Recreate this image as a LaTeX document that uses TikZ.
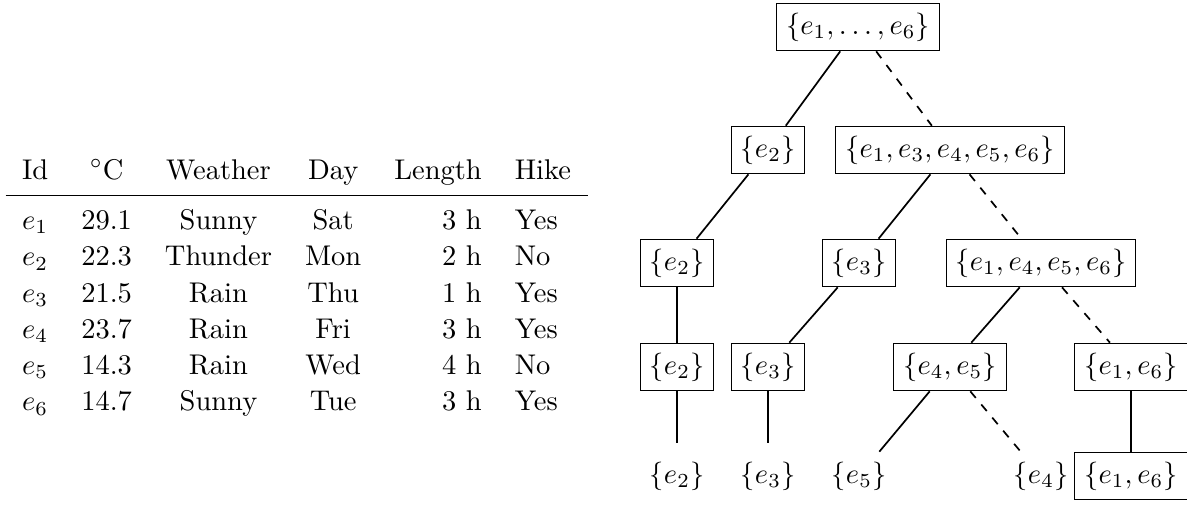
\documentclass[tikz,border=0pt]{standalone}
\usepackage{booktabs}
\begin{document}
\begin{tikzpicture}[x=0.3509pt,y=-0.3509pt,
  tbox/.style={draw, line width=0.4pt, inner sep=0.3333em},
  leaf/.style={tbox, draw=none},
  yesedge/.style={semithick},
  noedge/.style={semithick, dashed},
  shortend/.style={shorten >=3pt}]
\useasboundingbox (0,0) rectangle (1187,504);
% table
\node[anchor=base west, inner sep=0] (tab) at (5,179) {\renewcommand{\arraystretch}{1.06}\setlength{\tabcolsep}{5.8pt}%
\begin{tabular}[t]{lcccrl}
Id & $^\circ$C & Weather & Day & Length & Hike\\
\midrule
$e_1$ & 29.1 & Sunny & Sat & 3 h & Yes\\
$e_2$ & 22.3 & Thunder & Mon & 2 h & No\\
$e_3$ & 21.5 & Rain & Thu & 1 h & Yes\\
$e_4$ & 23.7 & Rain & Fri & 3 h & Yes\\
$e_5$ & 14.3 & Rain & Wed & 4 h & No\\
$e_6$ & 14.7 & Sunny & Tue & 3 h & Yes
\end{tabular}};
% tree
\node[tbox] (r) at (858,27) {$\{e_1,\ldots,e_6\}$};
\node[tbox] (a) at (768,150) {$\{e_2\}$};
\node[tbox] (b) at (950,150) {$\{e_1,e_3,e_4,e_5,e_6\}$};
\node[tbox] (c) at (677,263) {$\{e_2\}$};
\node[tbox] (d) at (859,263) {$\{e_3\}$};
\node[tbox] (f) at (1041,263) {$\{e_1,e_4,e_5,e_6\}$};
\node[tbox] (g) at (677,367) {$\{e_2\}$};
\node[tbox] (h) at (768,367) {$\{e_3\}$};
\node[tbox] (i) at (950,367) {$\{e_4,e_5\}$};
\node[tbox] (j) at (1131,367) {$\{e_1,e_6\}$};
\node[leaf] (k) at (677,476) {$\{e_2\}$};
\node[leaf] (l) at (768,476) {$\{e_3\}$};
\node[leaf] (m) at (859,476) {$\{e_5\}$};
\node[leaf] (n) at (1041,476) {$\{e_4\}$};
\node[tbox] (o) at (1131,476) {$\{e_1,e_6\}$};
\draw[yesedge] (r) -- (a);
\draw[noedge] (r) -- (b);
\draw[yesedge] (a) -- (c);
\draw[yesedge] (b) -- (d);
\draw[noedge] (b) -- (f);
\draw[yesedge] (c) -- (g);
\draw[yesedge] (d) -- (h);
\draw[yesedge] (f) -- (i);
\draw[noedge] (f) -- (j);
\draw[yesedge, shortend] (g) -- (k);
\draw[yesedge, shortend] (h) -- (l);
\draw[yesedge] (i) -- (m);
\draw[noedge] (i) -- (n);
\draw[yesedge] (j) -- (o);
\end{tikzpicture}
\end{document}
